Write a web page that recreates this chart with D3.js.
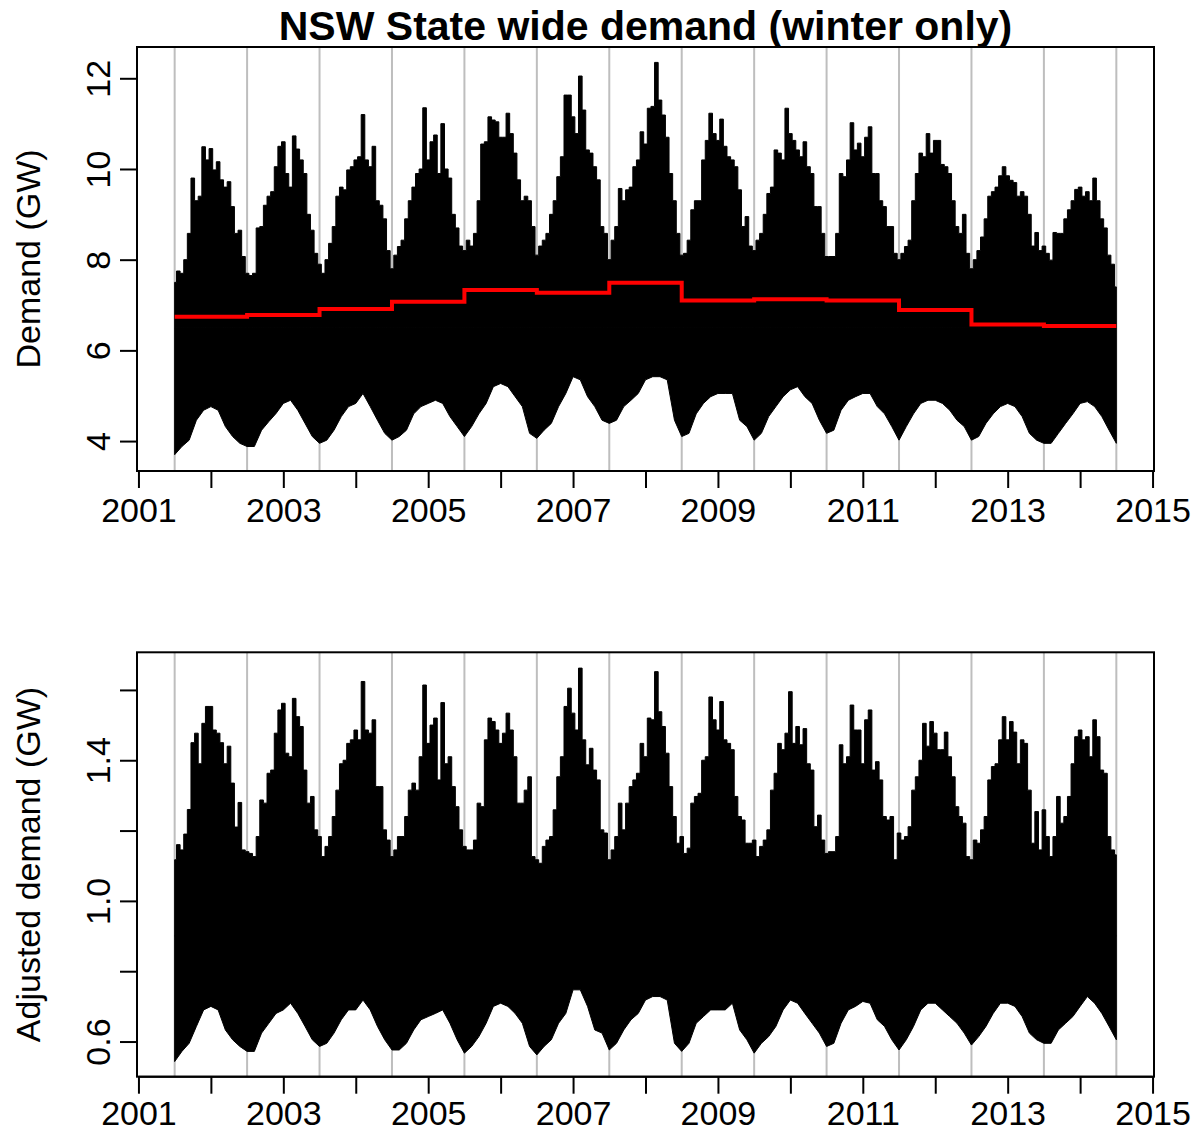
<!DOCTYPE html>
<html>
<head>
<meta charset="utf-8">
<script src="https://cdn.jsdelivr.net/npm/d3@7"></script>
<style>
  html, body { margin: 0; padding: 0; background: #fff; }
  svg text { font-family: "Liberation Sans", Arial, Helvetica, sans-serif; fill: #000; }
</style>
</head>
<body>
<svg id="chart" width="1199" height="1133"></svg>
<script>
// ---------------- DATA ----------------
const startYear = 2001.5;          // first observation (1 July 2001)
const highStep = 0.05;             // spacing of upper-envelope readings (years)
const lowStep = 0.1;               // spacing of lower-envelope readings (years)

// Upper envelope of state-wide demand (GW), read every 0.05 yr from 2001.5 to 2014.5
const demandHigh = [
  7.5, 7.75, 7.7, 8.0, 8.58, 9.8, 9.3, 9.4, 10.49, 10.2, 10.45, 9.98, 10.16, 9.76, 9.6, 9.72, 9.17, 8.58, 8.65, 8.07,
  7.7, 7.65, 7.7, 8.7, 8.73, 9.2, 9.4, 9.5, 10.05, 10.5, 10.6, 9.9, 9.6, 10.73, 10.44, 10.2, 9.9, 9.0, 8.65, 8.14,
  7.9, 7.7, 8.0, 8.36, 8.73, 9.4, 9.6, 9.54, 9.98, 10.05, 10.2, 10.27, 11.2, 10.2, 10.05, 10.5, 9.3, 9.2, 8.9, 8.2,
  7.8, 8.1, 8.29, 8.43, 8.9, 9.3, 9.6, 9.9, 10.0, 11.35, 10.2, 10.6, 10.75, 9.9, 11.0, 10.0, 9.8, 9.0, 8.7, 8.3,
  8.2, 8.43, 8.3, 8.58, 9.3, 10.55, 10.6, 11.15, 11.08, 11.04, 10.7, 10.7, 11.23, 10.78, 10.35, 9.76, 9.3, 9.4, 9.3, 8.73,
  8.1, 8.3, 8.43, 8.58, 9.0, 9.3, 9.83, 10.27, 11.63, 11.63, 11.15, 10.78, 12.05, 11.3, 10.42, 10.35, 10.05, 9.76, 8.73, 8.58,
  8.0, 8.43, 8.73, 9.57, 9.3, 9.54, 9.6, 10.05, 10.2, 10.82, 10.55, 11.34, 11.38, 12.35, 11.52, 11.19, 10.7, 9.9, 9.3, 8.58,
  8.1, 8.14, 8.43, 9.1, 9.3, 9.3, 10.2, 10.63, 11.23, 10.78, 10.63, 11.1, 10.5, 10.27, 10.2, 10.05, 9.54, 8.73, 8.95, 8.3,
  8.2, 8.43, 8.58, 9.0, 9.46, 9.6, 10.42, 10.35, 10.2, 11.34, 10.78, 10.63, 10.42, 10.27, 10.6, 10.05, 9.9, 9.17, 9.17, 8.58,
  8.07, 8.07, 8.07, 8.58, 9.9, 9.83, 10.2, 11.02, 10.42, 10.57, 10.27, 10.7, 10.93, 9.9, 9.9, 9.3, 9.17, 8.73, 8.73, 8.14,
  8.0, 8.14, 8.29, 8.43, 9.3, 9.9, 10.35, 10.27, 10.78, 10.35, 10.63, 10.63, 10.1, 10.05, 9.9, 9.3, 8.73, 8.58, 9.0, 8.14,
  7.8, 8.0, 8.2, 8.5, 8.9, 9.4, 9.5, 9.6, 9.85, 10.05, 9.85, 9.75, 9.7, 9.4, 9.5, 9.4, 9.0, 8.3, 8.6, 8.2,
  8.3, 8.14, 7.99, 8.6, 8.58, 8.58, 8.9, 9.1, 9.3, 9.55, 9.6, 9.4, 9.5, 9.3, 9.8, 9.3, 8.9, 8.7, 8.1, 7.9,
  7.4
];

// Lower envelope of state-wide demand (GW), read every 0.1 yr from 2001.5 to 2014.5
const demandLow = [
  3.7, 3.88, 4.02, 4.46, 4.68, 4.76, 4.68, 4.32, 4.1, 3.95,
  3.88, 3.88, 4.24, 4.43, 4.61, 4.83, 4.9, 4.68, 4.39, 4.1,
  3.95, 4.02, 4.24, 4.54, 4.76, 4.83, 5.05, 4.76, 4.46, 4.17,
  4.02, 4.1, 4.24, 4.6, 4.76, 4.83, 4.9, 4.83, 4.54, 4.32,
  4.1, 4.32, 4.6, 4.83, 5.2, 5.27, 5.2, 4.98, 4.76, 4.17,
  4.06, 4.24, 4.39, 4.76, 5.05, 5.42, 5.35, 4.98, 4.76, 4.46,
  4.39, 4.46, 4.76, 4.9, 5.05, 5.35, 5.42, 5.42, 5.35, 4.46,
  4.1, 4.17, 4.6, 4.83, 4.98, 5.05, 5.05, 5.05, 4.46, 4.32,
  4.02, 4.17, 4.54, 4.76, 4.98, 5.13, 5.2, 4.98, 4.83, 4.46,
  4.17, 4.24, 4.68, 4.9, 4.98, 5.05, 5.05, 4.76, 4.6, 4.32,
  4.02, 4.32, 4.6, 4.83, 4.9, 4.9, 4.83, 4.68, 4.46, 4.32,
  4.02, 4.1, 4.39, 4.6, 4.76, 4.83, 4.76, 4.54, 4.17, 4.02,
  3.95, 3.95, 4.17, 4.39, 4.6, 4.83, 4.87, 4.76, 4.54, 4.24,
  3.95
];

// Mean demand for each winter year (GW), 2001.5-2002.5 ... 2013.5-2014.5
const annualMean = [6.74, 6.78, 6.91, 7.07, 7.33, 7.27, 7.49, 7.10, 7.13, 7.10, 6.89, 6.57, 6.54];

// Upper envelope of adjusted demand (GW), every 0.05 yr
const adjustedHigh = [
  1.117, 1.16, 1.145, 1.19, 1.26, 1.45, 1.477, 1.39, 1.505, 1.553, 1.553, 1.486, 1.477, 1.45, 1.39, 1.44, 1.335, 1.21, 1.28, 1.145,
  1.14, 1.135, 1.126, 1.183, 1.287, 1.278, 1.363, 1.372, 1.477, 1.543, 1.562, 1.42, 1.41, 1.576, 1.524, 1.496, 1.372, 1.278, 1.297, 1.202,
  1.183, 1.126, 1.155, 1.183, 1.24, 1.315, 1.39, 1.40, 1.448, 1.458, 1.486, 1.458, 1.624, 1.486, 1.477, 1.515, 1.325, 1.325, 1.202, 1.173,
  1.126, 1.145, 1.183, 1.183, 1.24, 1.315, 1.335, 1.315, 1.41, 1.614, 1.448, 1.50, 1.52, 1.344, 1.564, 1.39, 1.41, 1.325, 1.268, 1.202,
  1.155, 1.145, 1.145, 1.173, 1.278, 1.268, 1.458, 1.52, 1.51, 1.486, 1.448, 1.477, 1.534, 1.486, 1.41, 1.278, 1.278, 1.315, 1.353, 1.126,
  1.117, 1.107, 1.155, 1.173, 1.183, 1.259, 1.353, 1.41, 1.553, 1.605, 1.534, 1.486, 1.662, 1.458, 1.387, 1.434, 1.372, 1.344, 1.202, 1.193,
  1.117, 1.145, 1.183, 1.278, 1.202, 1.278, 1.325, 1.344, 1.363, 1.448, 1.41, 1.52, 1.515, 1.652, 1.538, 1.496, 1.42, 1.325, 1.24, 1.164,
  1.183, 1.135, 1.15, 1.278, 1.297, 1.306, 1.40, 1.41, 1.58, 1.515, 1.486, 1.567, 1.458, 1.448, 1.43, 1.297, 1.24, 1.23, 1.164, 1.164,
  1.173, 1.126, 1.155, 1.173, 1.202, 1.315, 1.363, 1.448, 1.43, 1.477, 1.595, 1.448, 1.496, 1.444, 1.49, 1.39, 1.372, 1.211, 1.244, 1.173,
  1.135, 1.14, 1.14, 1.183, 1.444, 1.39, 1.41, 1.557, 1.486, 1.486, 1.39, 1.515, 1.543, 1.372, 1.396, 1.344, 1.24, 1.23, 1.24, 1.117,
  1.193, 1.173, 1.183, 1.211, 1.315, 1.353, 1.40, 1.505, 1.44, 1.51, 1.477, 1.43, 1.43, 1.48, 1.41, 1.353, 1.268, 1.24, 1.221, 1.126,
  1.117, 1.173, 1.164, 1.202, 1.24, 1.344, 1.382, 1.39, 1.458, 1.524, 1.458, 1.51, 1.48, 1.39, 1.458, 1.448, 1.315, 1.164, 1.254, 1.145,
  1.259, 1.183, 1.126, 1.183, 1.297, 1.221, 1.24, 1.297, 1.39, 1.467, 1.486, 1.458, 1.467, 1.41, 1.515, 1.467, 1.372, 1.363, 1.183, 1.145,
  1.131
];

// Lower envelope of adjusted demand (GW), every 0.1 yr
const adjustedLow = [
  0.543, 0.572, 0.595, 0.643, 0.69, 0.70, 0.69, 0.633, 0.605, 0.586,
  0.572, 0.572, 0.624, 0.652, 0.68, 0.69, 0.709, 0.68, 0.643, 0.605,
  0.586, 0.595, 0.624, 0.662, 0.69, 0.69, 0.718, 0.69, 0.643, 0.605,
  0.576, 0.576, 0.595, 0.633, 0.662, 0.671, 0.68, 0.69, 0.652, 0.605,
  0.567, 0.586, 0.614, 0.652, 0.70, 0.709, 0.70, 0.68, 0.652, 0.586,
  0.562, 0.586, 0.605, 0.652, 0.68, 0.747, 0.747, 0.70, 0.633, 0.624,
  0.576, 0.595, 0.633, 0.662, 0.68, 0.718, 0.728, 0.728, 0.718, 0.595,
  0.572, 0.595, 0.652, 0.671, 0.69, 0.69, 0.69, 0.709, 0.633, 0.605,
  0.567, 0.595, 0.614, 0.643, 0.69, 0.718, 0.709, 0.68, 0.652, 0.624,
  0.586, 0.595, 0.652, 0.69, 0.70, 0.714, 0.709, 0.662, 0.643, 0.605,
  0.576, 0.605, 0.643, 0.69, 0.709, 0.709, 0.69, 0.671, 0.652, 0.624,
  0.59, 0.614, 0.643, 0.68, 0.709, 0.709, 0.70, 0.671, 0.624, 0.605,
  0.595, 0.595, 0.633, 0.652, 0.671, 0.70, 0.728, 0.709, 0.68, 0.643,
  0.605
];

// Axis ticks and labels
const yearTicks = [2001, 2002, 2003, 2004, 2005, 2006, 2007, 2008, 2009, 2010, 2011, 2012, 2013, 2014, 2015];
const yearLabels = ["2001", "2003", "2005", "2007", "2009", "2011", "2013", "2015"];
const winterStarts = [2001.5, 2002.5, 2003.5, 2004.5, 2005.5, 2006.5, 2007.5, 2008.5, 2009.5, 2010.5, 2011.5, 2012.5, 2013.5, 2014.5];
const demandTicks = [4, 6, 8, 10, 12];
const demandLabels = ["4", "6", "8", "10", "12"];
const adjustedTicks = [0.6, 0.8, 1.0, 1.2, 1.4, 1.6];
const adjustedLabels = ["0.6", "", "1.0", "", "1.4", ""];

const titleText = "NSW State wide demand (winter only)";
const demandTitle = "Demand (GW)";
const adjustedTitle = "Adjusted demand (GW)";

// ---------------- DRAWING ----------------
const svg = d3.select("#chart");
const FONT = 34;
const left = 137, right = 1154;

const x = d3.scaleLinear().domain([2000.98, 2015.02]).range([left, right]);

function drawPanel(cfg) {
  const { top, bottom, yDomain, high, low, ticks, labels, ytitle, means, labelOffset, midValue } = cfg;
  const y = d3.scaleLinear().domain(yDomain).range([bottom, top]);
  const g = svg.append("g");

  // grey vertical lines at each winter start
  g.selectAll("line.grid").data(winterStarts).enter().append("line")
    .attr("x1", d => x(d)).attr("x2", d => x(d))
    .attr("y1", top).attr("y2", bottom)
    .attr("stroke", "#bebebe").attr("stroke-width", 2);

  // dense half-hourly series, drawn as its envelope:
  // upper half (stepped, spiky) and lower half (linear), overlapping in the middle
  const upperPts = high.map((v, i) => [startYear + i * highStep, v]);
  const t0 = startYear, t1 = startYear + (high.length - 1) * highStep;
  const upperArea = d3.area().x(d => x(d[0])).y0(y(midValue)).y1(d => y(d[1])).curve(d3.curveStep);
  g.append("path").attr("d", upperArea(upperPts))
    .attr("fill", "#000").attr("stroke", "#000").attr("stroke-width", 1);

  const lowerPts = low.map((v, i) => [startYear + i * lowStep, v]);
  const lowerArea = d3.area().x(d => x(d[0])).y0(y(midValue)).y1(d => y(d[1]));
  g.append("path").attr("d", lowerArea(lowerPts))
    .attr("fill", "#000").attr("stroke", "#000").attr("stroke-width", 1);

  // annual mean step line
  if (means) {
    const stepPts = means.map((m, i) => [startYear + i, m]);
    stepPts.push([startYear + means.length, means[means.length - 1]]);
    const stepLine = d3.line().x(d => x(d[0])).y(d => y(d[1])).curve(d3.curveStepAfter);
    g.append("path").attr("d", stepLine(stepPts))
      .attr("fill", "none").attr("stroke", "#ff0000").attr("stroke-width", 4);
  }

  // box
  g.append("rect").attr("x", left).attr("y", top)
    .attr("width", right - left).attr("height", bottom - top)
    .attr("fill", "none").attr("stroke", "#000").attr("stroke-width", 2);

  // x axis
  const xAxis = d3.axisBottom(x).tickValues(yearTicks).tickSize(17).tickSizeOuter(0)
    .tickFormat(d => yearLabels.includes(String(d)) ? String(d) : "");
  const xg = g.append("g").attr("transform", `translate(0,${bottom})`).call(xAxis);
  xg.select(".domain").attr("d", `M${x(yearTicks[0])},0H${x(yearTicks[yearTicks.length - 1])}`)
    .attr("stroke", "#000").attr("stroke-width", 2);
  xg.selectAll(".tick line").attr("stroke", "#000").attr("stroke-width", 2);
  xg.selectAll(".tick text").attr("y", labelOffset).attr("dy", 0)
    .style("font-size", FONT + "px").attr("fill", "#000");

  // y axis
  const yAxis = d3.axisLeft(y).tickValues(ticks).tickSize(17).tickSizeOuter(0)
    .tickFormat((d, i) => labels[i]);
  const yg = g.append("g").attr("transform", `translate(${left},0)`).call(yAxis);
  yg.select(".domain").attr("d", `M0,${y(ticks[0])}V${y(ticks[ticks.length - 1])}`)
    .attr("stroke", "#000").attr("stroke-width", 2);
  yg.selectAll(".tick line").attr("stroke", "#000").attr("stroke-width", 2);
  yg.selectAll(".tick text")
    .attr("x", null).attr("dy", null)
    .attr("text-anchor", "middle")
    .attr("transform", "translate(-27,0) rotate(-90)")
    .style("font-size", FONT + "px").attr("fill", "#000");

  // y title
  svg.append("text")
    .attr("transform", `translate(40,${(top + bottom) / 2}) rotate(-90)`)
    .attr("text-anchor", "middle")
    .style("font-size", FONT + "px")
    .text(ytitle);
}

drawPanel({
  top: 47, bottom: 471, yDomain: [3.34, 12.69],
  high: demandHigh, low: demandLow,
  ticks: demandTicks, labels: demandLabels,
  ytitle: demandTitle, means: annualMean, labelOffset: 51, midValue: 6.5
});

drawPanel({
  top: 652.3, bottom: 1076.7, yDomain: [0.50, 1.707],
  high: adjustedHigh, low: adjustedLow,
  ticks: adjustedTicks, labels: adjustedLabels,
  ytitle: adjustedTitle, means: null, labelOffset: 48, midValue: 0.9
});

svg.append("text")
  .attr("x", (left + right) / 2).attr("y", 40)
  .attr("text-anchor", "middle")
  .style("font-size", "41px").style("font-weight", "bold")
  .text(titleText);
</script>
</body>
</html>
